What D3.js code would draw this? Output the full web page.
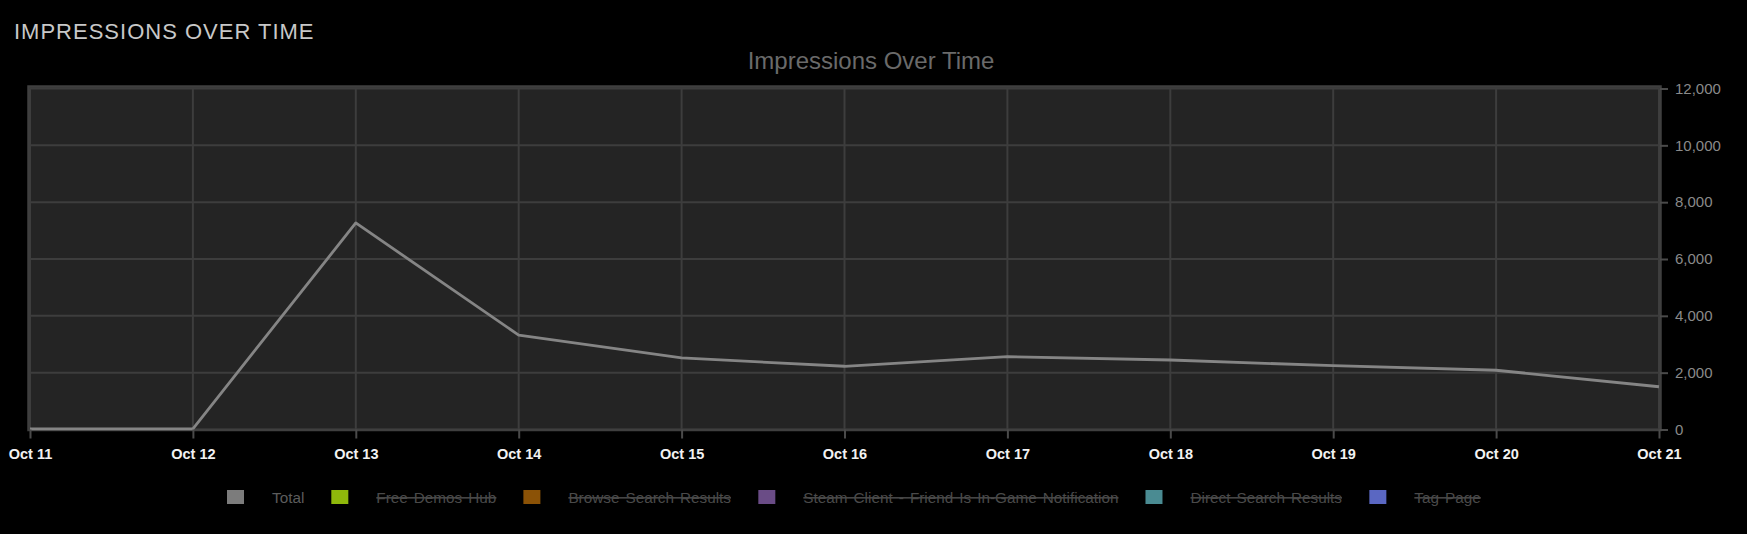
<!DOCTYPE html>
<html>
<head>
<meta charset="utf-8">
<script src="https://cdn.jsdelivr.net/npm/d3@7"></script>
<style>
  html, body { margin: 0; padding: 0; background: #000; }
  svg { display: block; }
  text { font-family: "Liberation Sans", Arial, sans-serif; }
</style>
</head>
<body>
<svg id="chart" width="1747" height="534"></svg>
<script>
const dates = ["Oct 11", "Oct 12", "Oct 13", "Oct 14", "Oct 15", "Oct 16", "Oct 17", "Oct 18", "Oct 19", "Oct 20", "Oct 21"];
const totalImpressions = [20, 25, 7270, 3320, 2520, 2225, 2565, 2445, 2245, 2085, 1505];
const yTicks = [0, 2000, 4000, 6000, 8000, 10000, 12000];
const legendNames = ["Total", "Free Demos Hub", "Browse Search Results", "Steam Client - Friend Is In-Game Notification", "Direct Search Results", "Tag Page"];
const legendColors = ["#7c7c7c", "#8fb80b", "#8b5206", "#6a4c86", "#4a8b92", "#5a67c2"];
const legendVisible = [true, false, false, false, false, false];

const svg = d3.select("#chart");

const x = d3.scalePoint().domain(dates).range([30, 1659]);
const y = d3.scaleLinear().domain([0, 12000]).range([429.5, 88.5]);

// page header
svg.append("text")
  .attr("x", 14).attr("y", 39)
  .attr("fill", "#c8c8c8")
  .style("font-size", "22px")
  .style("letter-spacing", "1px")
  .text("IMPRESSIONS OVER TIME");

// chart title
svg.append("text")
  .attr("x", 871).attr("y", 69)
  .attr("text-anchor", "middle")
  .attr("fill", "#6a6a6a")
  .style("font-size", "24px")
  .text("Impressions Over Time");

// plot background
svg.append("rect")
  .attr("x", 29).attr("y", 87)
  .attr("width", 1631).attr("height", 343)
  .attr("fill", "#242424");

// grid
const grid = svg.append("g");
grid.selectAll("line.v").data(dates).join("line")
  .attr("x1", d => x(d)).attr("x2", d => x(d))
  .attr("y1", y(12000)).attr("y2", y(0))
  .attr("stroke", "#3d3d3d").attr("stroke-width", 2);
grid.selectAll("line.h").data(yTicks).join("line")
  .attr("x1", x(dates[0])).attr("x2", x(dates[dates.length - 1]))
  .attr("y1", d => y(d)).attr("y2", d => y(d))
  .attr("stroke", "#3d3d3d").attr("stroke-width", 2);

// plot border
svg.append("rect")
  .attr("x", 28.5).attr("y", 86.5)
  .attr("width", 1632).attr("height", 343.5)
  .attr("fill", "none")
  .attr("stroke", "#3f3f3f").attr("stroke-width", 2.5);

// line
const line = d3.line().x((d, i) => x(dates[i])).y(d => y(d));
svg.append("path")
  .datum(totalImpressions)
  .attr("d", line)
  .attr("fill", "none")
  .attr("stroke", "#858585")
  .attr("stroke-width", 2.8)
  .attr("stroke-linejoin", "round");

// x axis
const xAxis = svg.append("g")
  .attr("transform", `translate(0,${y(0)})`)
  .call(d3.axisBottom(x).tickSize(9).tickPadding(10));
xAxis.select(".domain").remove();
xAxis.selectAll(".tick line").attr("stroke", "#4a4a4a").attr("stroke-width", 2);
xAxis.selectAll(".tick text")
  .attr("fill", "#f2f2f2")
  .style("font-size", "14.5px")
  .style("font-weight", "bold")
  .style("font-family", "'Liberation Sans', Arial, sans-serif");

// y axis
const yAxis = svg.append("g")
  .attr("transform", `translate(1660,0)`)
  .call(d3.axisRight(y).tickValues(yTicks).tickSize(8).tickPadding(7).tickFormat(d3.format(",")));
yAxis.select(".domain").remove();
yAxis.selectAll(".tick line").attr("stroke", "#4a4a4a").attr("stroke-width", 2);
yAxis.selectAll(".tick text")
  .attr("fill", "#8a8a8a")
  .style("font-size", "15px")
  .style("font-family", "'Liberation Sans', Arial, sans-serif");

// legend
const legend = svg.append("g");
let lx = 227;
legendNames.forEach((name, i) => {
  const g = legend.append("g");
  g.append("rect")
    .attr("x", lx).attr("y", 490)
    .attr("width", 17).attr("height", 14)
    .attr("fill", legendColors[i]);
  const t = g.append("text")
    .attr("x", lx + 45).attr("y", 502.5)
    .attr("fill", legendVisible[i] ? "#5c5c5c" : "#4a4a4a")
    .style("font-size", "15.3px")
    .style("word-spacing", "1.8px")
    .style("text-decoration", legendVisible[i] ? "none" : "line-through")
    .text(name);
  const w = t.node().getBBox().width;
  lx = lx + 45 + w + 27;
});
</script>
</body>
</html>
